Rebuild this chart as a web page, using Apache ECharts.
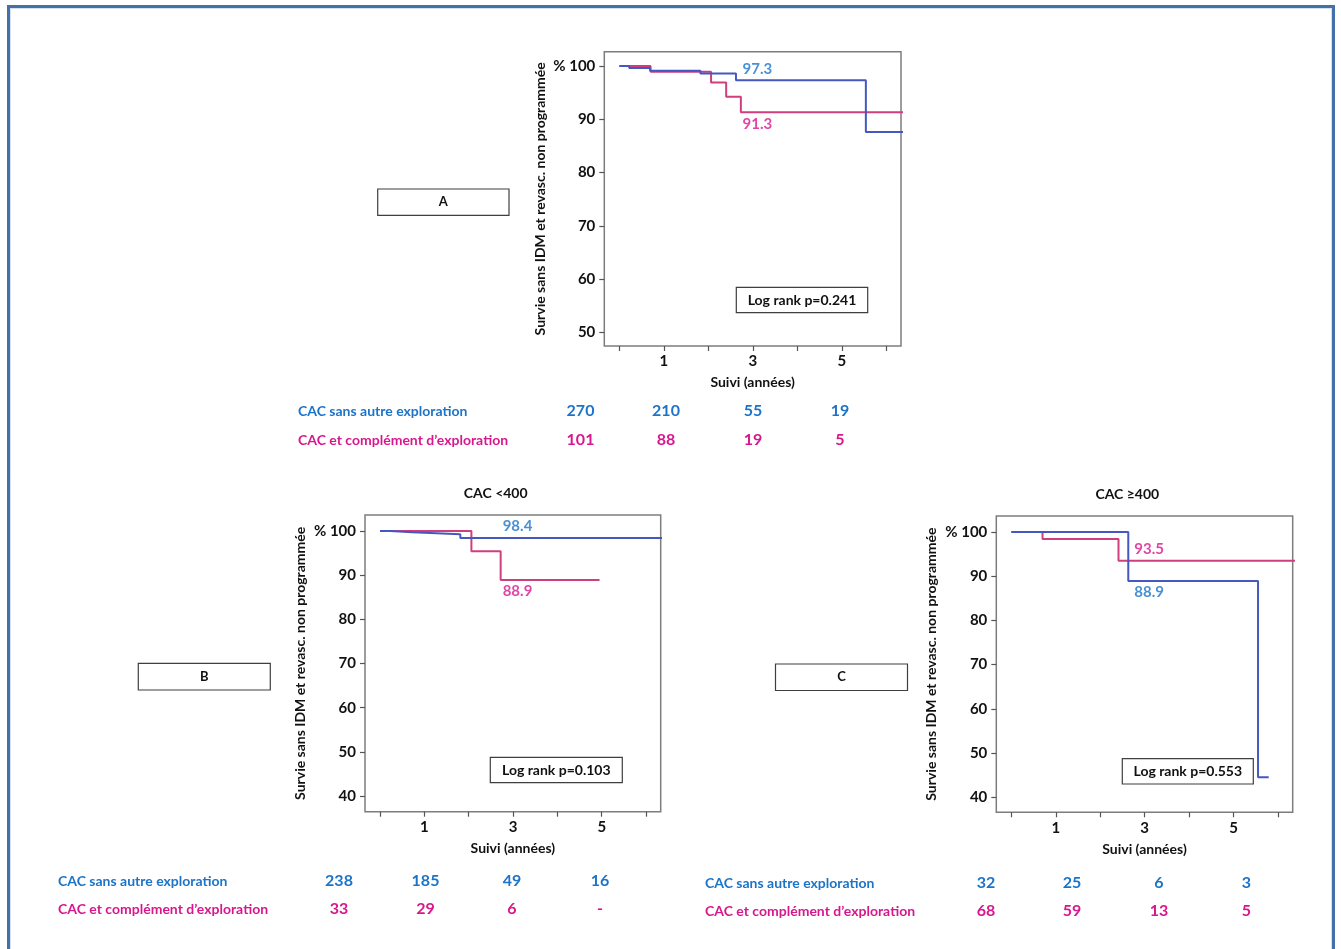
<!DOCTYPE html>
<html>
<head>
<meta charset="utf-8">
<script src="https://cdn.jsdelivr.net/npm/echarts@6/dist/echarts.min.js"></script>
<style>
html,body{margin:0;padding:0;background:#fff;}
#chart{width:1341px;height:949px;}
</style>
</head>
<body>
<div id="chart"></div>
<script>
// ---------- DATA ----------
const xTickValues = [0, 1, 2, 3, 4, 5, 6];
const xLabelValues = [1, 3, 5];
const yTicksA = [50, 60, 70, 80, 90, 100];
const yTicksBC = [40, 50, 60, 70, 80, 90, 100];

const seriesNames = ['CAC sans autre exploration', 'CAC et complément d\u2019exploration'];

// Panel A (all patients)
const blueA = [[0, 100], [0.22, 99.6], [0.69, 99.1], [1.82, 98.6], [2.62, 97.3], [5.54, 87.6], [6.6, 87.6]];
const pinkA = [[0, 100], [0.70, 98.9], [2.06, 96.9], [2.40, 94.2], [2.73, 91.3], [6.6, 91.3]];
const annotA = { blue: 97.3, pink: 91.3 };
const logRankA = 'Log rank p=0.241';
const riskBlueA = ['270', '210', '55', '19'];
const riskPinkA = ['101', '88', '19', '5'];

// Panel B (CAC <400)
const blueB = [[0, 100], [0.23, 99.7], [0.73, 99.25], [1.81, 98.4], [6.6, 98.4]];
const pinkB = [[0, 100], [2.06, 95.4], [2.72, 88.9], [4.95, 88.9]];
const annotB = { blue: 98.4, pink: 88.9 };
const logRankB = 'Log rank p=0.103';
const riskBlueB = ['238', '185', '49', '16'];
const riskPinkB = ['33', '29', '6', '-'];

// Panel C (CAC >=400)
const blueC = [[0, 100], [2.63, 88.9], [5.55, 44.5], [5.79, 44.5]];
const pinkC = [[0, 100], [0.70, 98.4], [2.41, 93.5], [6.6, 93.5]];
const annotC = { blue: 88.9, pink: 93.5 };
const logRankC = 'Log rank p=0.553';
const riskBlueC = ['32', '25', '6', '3'];
const riskPinkC = ['68', '59', '13', '5'];

const panelTitles = ['', 'CAC <400', 'CAC \u2265400'];
const panelLetters = ['A', 'B', 'C'];
const yAxisName = 'Survie sans IDM et revasc. non programmée';
const xAxisName = 'Suivi (années)';

// ---------- STYLE ----------
const FONT = 'Lato, "Open Sans", sans-serif';
const BLUE_LINE = '#4458C0';
const PINK_LINE = '#CF3F7D';
const BLUE_TXT = '#1C74C8';
const PINK_TXT = '#D8168E';
const FRAME = '#7d7d7d';

const panels = [
  { grid: { left: 604.3, top: 51.7, width: 296.7, height: 294.3 }, ymin: 47.43, ymax: 102.68, yTicks: yTicksA,
    blue: blueA, pink: pinkA, annot: annotA, annotPos: { blue: 'top', pink: 'bottom' },
    nameGapY: 57, nameGapX: 29 },
  { grid: { left: 365, top: 515, width: 295.7, height: 296.7 }, ymin: 36.45, ymax: 103.62, yTicks: yTicksBC,
    blue: blueB, pink: pinkB, annot: annotB, annotPos: { blue: 'top', pink: 'bottom' },
    nameGapY: 58, nameGapX: 30 },
  { grid: { left: 996.3, top: 516, width: 296.4, height: 296.3 }, ymin: 36.6, ymax: 103.62, yTicks: yTicksBC,
    blue: blueC, pink: pinkC, annot: annotC, annotPos: { blue: 'bottom', pink: 'top' },
    nameGapY: 57.5, nameGapX: 30.5 }
];

const grids = [], xAxes = [], yAxes = [], series = [];
panels.forEach((p, i) => {
  grids.push(Object.assign({ show: true, borderColor: FRAME, borderWidth: 1.5, backgroundColor: 'transparent' }, p.grid));
  xAxes.push({
    gridIndex: i, type: 'value', min: -0.34, max: 6.33,
    axisLine: { show: false, onZero: false }, splitLine: { show: false },
    axisTick: { show: true, customValues: xTickValues, length: 5, lineStyle: { color: '#555', width: 1.2 } },
    axisLabel: { customValues: xLabelValues, color: '#111', fontWeight: 'bold', fontSize: 15, fontFamily: FONT, margin: 8 },
    name: xAxisName, nameLocation: 'middle', nameGap: p.nameGapX,
    nameTextStyle: { color: '#111', fontWeight: 'bold', fontSize: 14, fontFamily: FONT }
  });
  yAxes.push({
    gridIndex: i, type: 'value', min: p.ymin, max: p.ymax,
    axisLine: { show: false, onZero: false }, splitLine: { show: false },
    axisTick: { show: true, customValues: p.yTicks, length: 5, lineStyle: { color: '#555', width: 1.2 } },
    axisLabel: { customValues: p.yTicks, color: '#111', fontWeight: 'bold', fontSize: 15, fontFamily: FONT, margin: 9,
      formatter: v => (v === 100 ? '% 100' : String(v)) },
    name: yAxisName, nameLocation: 'middle', nameGap: p.nameGapY, nameRotate: 90,
    nameTextStyle: { color: '#111', fontWeight: 'bold', fontSize: 14, fontFamily: FONT }
  });
  series.push({
    type: 'line', xAxisIndex: i, yAxisIndex: i, data: p.blue, step: 'end', showSymbol: false, symbol: 'none',
    lineStyle: { color: BLUE_LINE, width: 2 }, z: 3, animation: false, silent: true
  });
  series.push({
    type: 'line', xAxisIndex: i, yAxisIndex: i, data: p.pink, step: 'end', showSymbol: false, symbol: 'none',
    lineStyle: { color: PINK_LINE, width: 2 }, z: 2, animation: false, silent: true
  });
  // annotation labels placed at the curve value
  ['blue', 'pink'].forEach(k => {
    series.push({
      type: 'scatter', xAxisIndex: i, yAxisIndex: i, symbolSize: 0, animation: false, silent: true,
      data: [[3.1, p.annot[k]]],
      label: { show: true, position: p.annotPos[k], distance: 4, formatter: () => p.annot[k].toFixed(1),
        color: k === 'blue' ? BLUE_TXT : PINK_TXT, fontWeight: 'bold', fontSize: 15, fontFamily: FONT }
    });
  });
});

// ---------- GRAPHIC (frame, boxes, risk tables) ----------
const graphic = [];
function txt(x, y, text, color, size, align) {
  graphic.push({ type: 'text', x: 0, y: 0, silent: true,
    style: { x, y, text, fill: color, font: 'bold ' + size + 'px ' + FONT,
      textAlign: align || 'center', textVerticalAlign: 'middle', align: align || 'center', verticalAlign: 'middle' } });
}
function box(x, y, w, h, text, size) {
  graphic.push({ type: 'rect', silent: true, shape: { x, y, width: w, height: h },
    style: { fill: '#fff', stroke: '#3f3f3f', lineWidth: 1.2 } });
  txt(x + w / 2, y + h / 2, text, '#111', size);
}
// outer page frame
graphic.push({ type: 'rect', silent: true, shape: { x: 8.5, y: 6.5, width: 1325, height: 1000 },
  style: { fill: 'none', stroke: '#4472A8', lineWidth: 3 } });
graphic.push({ type: 'rect', silent: true, shape: { x: 10.5, y: 8.5, width: 1321, height: 1000 },
  style: { fill: 'none', stroke: '#d5e0ef', lineWidth: 1 } });

// titles
txt(495.7, 493, panelTitles[1], '#111', 14);
txt(1127.3, 494, panelTitles[2], '#111', 14);

// letter boxes
box(377.7, 189, 131.3, 26.3, panelLetters[0], 13);
box(138.3, 663.3, 132, 26.7, panelLetters[1], 13);
box(775.5, 664, 132, 26.5, panelLetters[2], 13);

// log rank boxes
box(736.3, 287.3, 131.4, 25.4, logRankA, 14);
box(490.3, 757.3, 132, 25.4, logRankB, 14);
box(1122.3, 758.7, 131, 25.3, logRankC, 14);

// risk tables
function riskTable(labelX, y1, y2, numXs, blueVals, pinkVals) {
  txt(labelX, y1, seriesNames[0], BLUE_TXT, 14, 'left');
  txt(labelX, y2, seriesNames[1], PINK_TXT, 14, 'left');
  numXs.forEach((x, j) => {
    txt(x, y1, blueVals[j], BLUE_TXT, 16);
    txt(x, y2, pinkVals[j], PINK_TXT, 16);
  });
}
riskTable(298, 411, 440, [580.5, 666, 753, 840], riskBlueA, riskPinkA);
riskTable(58, 881, 909, [339, 425.5, 512, 600], riskBlueB, riskPinkB);
riskTable(705, 883, 911, [986, 1072, 1159, 1246.5], riskBlueC, riskPinkC);

const chart = echarts.init(document.getElementById('chart'), null, { renderer: 'canvas' });
chart.setOption({
  backgroundColor: '#ffffff',
  animation: false,
  grid: grids, xAxis: xAxes, yAxis: yAxes, series, graphic
});
</script>
</body>
</html>
